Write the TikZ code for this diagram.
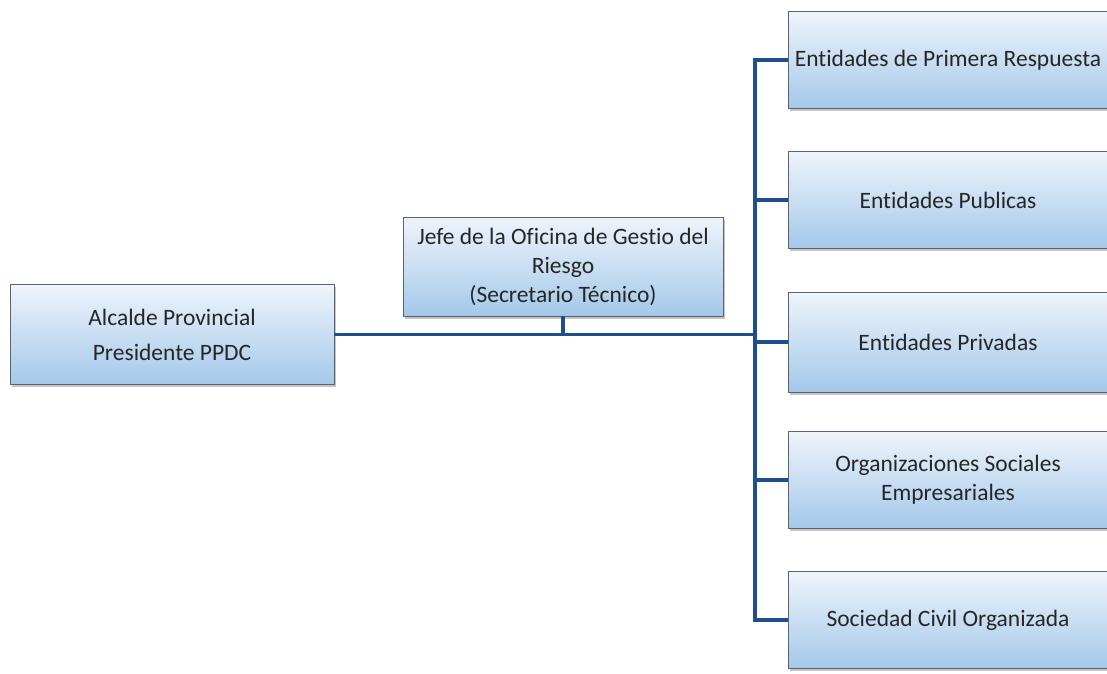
\documentclass[tikz,border=0pt]{standalone}
\usepackage{fontspec}
\setmainfont{Carlito}[Ligatures=NoCommon]
\usetikzlibrary{shadows}
\definecolor{linec}{HTML}{1F4E8C}
\definecolor{boxtop}{HTML}{EEF4FB}
\definecolor{boxbot}{HTML}{A4C8EA}
\definecolor{boxline}{HTML}{5A6470}
\tikzset{
  orgbox/.style={draw=boxline, line width=0.8pt, top color=boxtop, bottom color=boxbot,
    minimum width=320pt, minimum height=97pt, align=center, inner sep=2pt,
    font=\fontsize{23.5}{29}\selectfont, text=black!85,
    drop shadow={shadow xshift=1.5pt, shadow yshift=-2.5pt, opacity=0.45}},
  conn/.style={draw=linec, line width=3.5pt}
}
\begin{document}
\begin{tikzpicture}[x=1pt,y=-1pt]
\useasboundingbox (0,0) rectangle (1107,673);
\clip (0,0) rectangle (1107,673);
\fill[white] (0,0) rectangle (1107,673);
\coordinate (trunk) at (755,0);
\node[orgbox, minimum width=324pt, minimum height=100pt] (alc) at (172,334.5) {Alcalde Provincial\\[6pt]Presidente PPDC};
\node[orgbox, minimum height=99pt] (jefe) at (563,266.5) {\raisebox{0pt}{}Jefe de la Oficina de Gestio del\\Riesgo\\(Secretario Técnico)};
\node[orgbox] (b1) at (948,60) {Entidades de Primera Respuesta};
\node[orgbox] (b2) at (948,200) {Entidades Publicas};
\node[orgbox, minimum height=100pt] (b3) at (948,342) {Entidades Privadas};
\node[orgbox] (b4) at (948,480) {Organizaciones Sociales\\Empresariales};
\node[orgbox] (b5) at (948,620) {Sociedad Civil Organizada};
\draw[conn] (alc.east) -- (alc.east -| trunk);
\draw[conn] (jefe.south) -- (jefe.south |- alc.east);
\draw[conn] (b1.west) -- (b1.west -| trunk) -- (b5.west -| trunk) -- (b5.west);
\draw[conn] (b2.west) -- (b2.west -| trunk);
\draw[conn] (b3.west) -- (b3.west -| trunk);
\draw[conn] (b4.west) -- (b4.west -| trunk);
\end{tikzpicture}
\end{document}
